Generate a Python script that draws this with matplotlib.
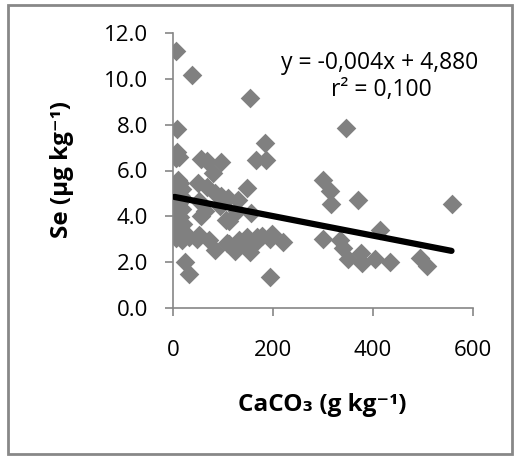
import matplotlib
matplotlib.use("Agg")
import matplotlib.pyplot as plt
from matplotlib.patches import Rectangle
import numpy as np

# ---- data ----
caco3 = [5, 37, 153, 8, 183, 8, 5, 12, 55, 67, 95, 165, 185,
         80, 10, 14, 6, 18, 67, 148, 50,
         8, 15, 95, 84, 110, 130, 3, 12, 51,
         6, 18, 64, 94, 127, 155,
         4, 14, 55, 105, 111, 8, 20,
         5, 16, 10, 31, 51, 5, 18,
         47, 71, 84, 107, 111, 124, 131, 141, 147, 154, 164, 167, 177, 194, 197, 220,
         24, 31, 193,
         300, 313, 315, 345, 370, 414, 300, 333, 340, 350, 375, 377, 403, 433, 494, 507, 557]
se = [11.2, 10.15, 9.15, 7.8, 7.2, 6.8, 6.55, 6.6, 6.5, 6.4, 6.35, 6.45, 6.45,
      5.9, 5.6, 5.45, 5.3, 5.2, 5.3, 5.25, 5.45,
      5.0, 4.9, 4.9, 5.0, 4.8, 4.7, 4.75, 4.6, 4.65,
      4.4, 4.3, 4.25, 4.45, 4.25, 4.15,
      4.1, 3.95, 4.0, 3.85, 3.8, 3.8, 3.65,
      3.5, 3.4, 3.25, 3.1, 3.2, 3.05, 2.95,
      3.0, 2.95, 2.55, 2.85, 2.8, 2.5, 2.95, 2.8, 3.1, 2.45, 2.85, 3.1, 3.15, 3.0, 3.25, 2.9,
      2.0, 1.5, 1.35,
      5.6, 5.1, 4.55, 7.85, 4.7, 3.4, 3.0, 2.95, 2.6, 2.15, 2.4, 1.95, 2.15, 2.0, 2.2, 1.85, 4.55]
trend_slope = -0.00425
trend_intercept = 4.86
x_ticks = [0, 200, 400, 600]
y_ticks = [0, 2, 4, 6, 8, 10, 12]
equation_text = "y = -0,004x + 4,880"
r2_text = "r² = 0,100"
x_label = "CaCO₃ (g kg⁻¹)"
y_label = "Se (µg kg⁻¹)"

plt.rcParams['font.family'] = ['Open Sans', 'DejaVu Sans']

fig = plt.figure(figsize=(5.16, 4.58), dpi=100)
W, H = 516, 458
ax = fig.add_axes([173 / W, 1 - 308 / H, 300 / W, (308 - 33) / H])

ax.scatter(caco3, se, marker='D', s=100, color='#808080', linewidths=0, zorder=2)

xs = np.array([min(caco3), max(caco3)])
ax.plot(xs, trend_slope * xs + trend_intercept, color='black', lw=4.5,
        solid_capstyle='round', zorder=3)

ax.set_xlim(0, 600)
ax.set_ylim(0, 12)
ax.set_xticks(x_ticks)
ax.set_xticklabels([str(v) for v in x_ticks])
ax.set_yticks(y_ticks)
ax.set_yticklabels([f"{v:.1f}" for v in y_ticks])
for s in ['top', 'right']:
    ax.spines[s].set_visible(False)
for s in ['left', 'bottom']:
    ax.spines[s].set_color('#868686')
    ax.spines[s].set_linewidth(1.2)
ax.tick_params(axis='both', colors='#868686', length=6, width=1.2, labelsize=16,
               labelcolor='black')
ax.tick_params(axis='x', pad=17)
ax.tick_params(axis='y', pad=12)

fig.text(380 / W, 1 - 63 / H, equation_text, ha='center', va='center', fontsize=16.5)
fig.text(381 / W, 1 - 90 / H, r2_text, ha='center', va='center', fontsize=16.5)

fig.text(322 / W, 1 - 405 / H, x_label, ha='center', va='center', fontsize=17.5,
         fontweight='bold')
fig.text(62 / W, 1 - 170 / H, y_label, ha='center', va='center', fontsize=17.5,
         fontweight='bold', rotation=90)

fig.patches.append(Rectangle((8 / W, 1 - 454 / H), 504 / W, 449 / H,
                             transform=fig.transFigure, fill=False,
                             edgecolor='#888888', linewidth=2))

fig.savefig("out.png", dpi=100)
